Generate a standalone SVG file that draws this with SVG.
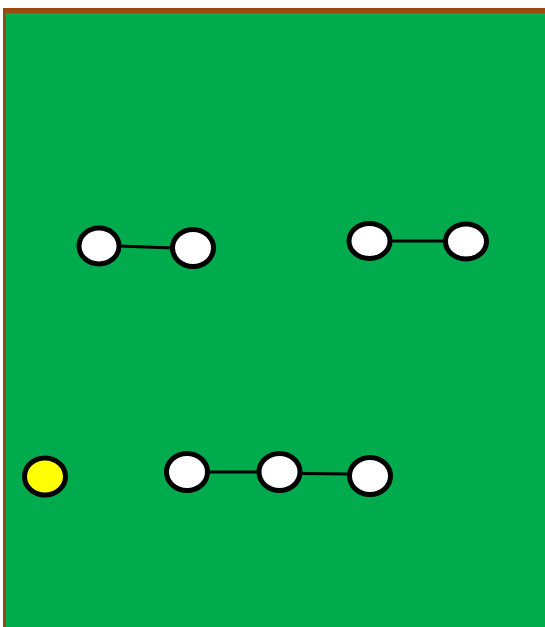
<svg xmlns="http://www.w3.org/2000/svg" width="545" height="627" viewBox="0 0 545 627">
<style>
.n{stroke:#000;stroke-width:5}
.w{fill:#fff}
.y{fill:#ffff00}
.e{stroke:#000;stroke-width:3;fill:none}
</style>
<rect x="3" y="8" width="542" height="619" fill="#994a10"/>
<rect x="6" y="13" width="539" height="614" fill="#00ab4e"/>
<g id="connectors">
<line class="e" x1="119" y1="246" x2="173" y2="248"/>
<line class="e" x1="390" y1="241" x2="446" y2="241"/>
<line class="e" x1="207" y1="472" x2="259" y2="472"/>
<line class="e" x1="300" y1="473.5" x2="350" y2="474"/>
</g>
<g id="n1"><ellipse class="n w" cx="99" cy="246" rx="20" ry="18"/></g>
<g id="n2"><ellipse class="n w" cx="193" cy="248" rx="20.5" ry="18.5"/></g>
<g id="n3"><ellipse class="n w" cx="369.5" cy="241" rx="20.5" ry="17.5"/></g>
<g id="n4"><ellipse class="n w" cx="466" cy="241.5" rx="20.5" ry="17.5"/></g>
<g id="n5"><ellipse class="n y" cx="45" cy="476.5" rx="20.5" ry="18.5"/></g>
<g id="n6"><ellipse class="n w" cx="187" cy="472" rx="20.5" ry="18.5"/></g>
<g id="n7"><ellipse class="n w" cx="279.5" cy="472" rx="20.5" ry="18.5"/></g>
<g id="n8"><ellipse class="n w" cx="370" cy="476" rx="20.5" ry="18.5"/></g>
</svg>
